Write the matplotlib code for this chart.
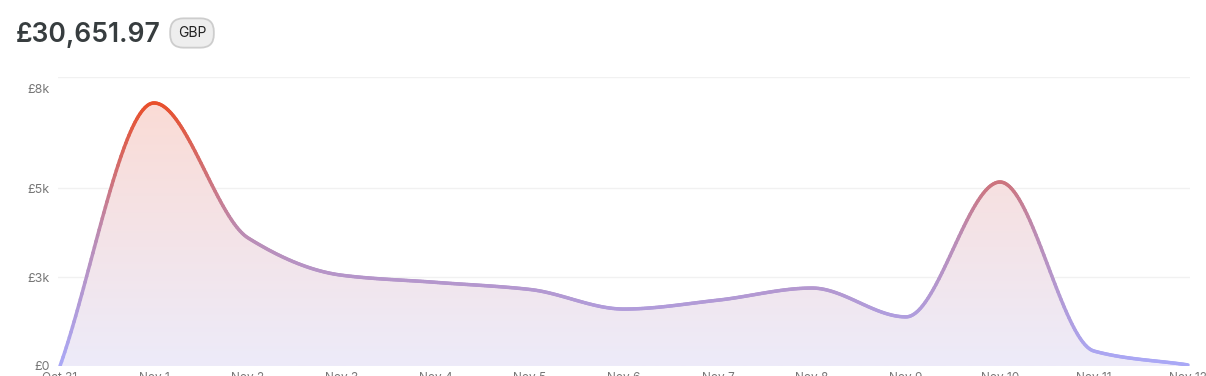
import numpy as np
import matplotlib.pyplot as plt
from matplotlib.collections import LineCollection
from matplotlib.colors import LinearSegmentedColormap

plt.rcParams['font.family'] = ['Inter', 'DejaVu Sans']

# data
dates = ["Oct 31", "Nov 1", "Nov 2", "Nov 3", "Nov 4", "Nov 5", "Nov 6",
         "Nov 7", "Nov 8", "Nov 9", "Nov 10", "Nov 11", "Nov 12"]
amounts = [0, 7390, 3600, 2550, 2350, 2150, 1600, 1850, 2190, 1380, 5170, 420, 30]
ytick_vals = [0, 2500, 5000, 7800]
ytick_labels = ["£0", "£3k", "£5k", "£8k"]
grid_vals = [0, 2500, 5000, 8120]
total_label = "£30,651.97"
currency = "GBP"
y_max = 8120


def monotone_curve(x, y, n=60):
    # Fritsch-Carlson monotone cubic, used only to draw a smooth line
    x = np.asarray(x, float)
    y = np.asarray(y, float)
    h = np.diff(x)
    d = np.diff(y) / h
    m = np.zeros_like(y)
    m[0] = d[0]
    m[-1] = d[-1]
    for k in range(1, len(x) - 1):
        if d[k - 1] * d[k] <= 0:
            m[k] = 0
        else:
            w1 = 2 * h[k] + h[k - 1]
            w2 = h[k] + 2 * h[k - 1]
            m[k] = (w1 + w2) / (w1 / d[k - 1] + w2 / d[k])
    xs, ys = [], []
    for k in range(len(x) - 1):
        t = np.linspace(0, 1, n, endpoint=(k == len(x) - 2))
        h00 = 2 * t**3 - 3 * t**2 + 1
        h10 = t**3 - 2 * t**2 + t
        h01 = -2 * t**3 + 3 * t**2
        h11 = t**3 - t**2
        xs.append(x[k] + t * h[k])
        ys.append(h00 * y[k] + h10 * h[k] * m[k] + h01 * y[k + 1] + h11 * h[k] * m[k + 1])
    return np.concatenate(xs), np.concatenate(ys)


fig = plt.figure(figsize=(12.06, 3.76), dpi=100)
W, H = 1206, 376
ax = fig.add_axes([58 / W, (H - 366) / H, (1190 - 58) / W, (366 - 77) / H])

xpos = np.arange(len(dates))
xs, ys = monotone_curve(xpos, amounts)

pad = 2 / 94
ax.set_xlim(-pad, len(dates) - 1 + pad)
ax.set_ylim(0, y_max)

for g in grid_vals:
    ax.axhline(g, color='#f1f1f1', lw=1, zorder=0)

# gradient fill under the curve
fill_cmap = LinearSegmentedColormap.from_list('fill', ['#edebf9', '#fcdad2'])
poly = ax.fill_between(xs, ys, 0, facecolor='none', edgecolor='none')
grad = np.linspace(0, 1, 256).reshape(-1, 1)
im = ax.imshow(grad, cmap=fill_cmap, aspect='auto', origin='lower',
               extent=[xs[0], xs[-1], 0, y_max], zorder=1)
im.set_clip_path(poly.get_paths()[0], transform=ax.transData)

# line coloured by height
line_cmap = LinearSegmentedColormap.from_list('line', ['#a9a8f7', '#bb8cb4', '#e94f2b'])
pts = np.column_stack([xs, ys]).reshape(-1, 1, 2)
segs = np.concatenate([pts[:-1], pts[1:]], axis=1)
lc = LineCollection(segs, cmap=line_cmap, norm=plt.Normalize(0, 7400),
                    linewidths=2.5, capstyle='round', joinstyle='round', zorder=3)
lc.set_array((ys[:-1] + ys[1:]) / 2)
ax.add_collection(lc)

ax.set_xticks(xpos)
ax.set_xticklabels(dates)
ax.set_yticks(ytick_vals)
ax.set_yticklabels(ytick_labels)
ax.tick_params(axis='x', length=0, pad=4, labelsize=8.5, labelcolor='#777777')
ax.tick_params(axis='y', length=0, pad=6, labelsize=9, labelcolor='#777777')
for s in ax.spines.values():
    s.set_visible(False)

fig.text(16 / W, (H - 35) / H, total_label, fontsize=19, fontweight='semibold',
         color='#373d3f', va='center', ha='left')
fig.text(192 / W, (H - 33) / H, currency, fontsize=10, color='#222222',
         va='center', ha='center',
         bbox=dict(boxstyle='round,pad=0.55,rounding_size=0.95', fc='#eeeeee',
                   ec='#cdcdcd', lw=1.3))

fig.savefig('out.png', dpi=100)
